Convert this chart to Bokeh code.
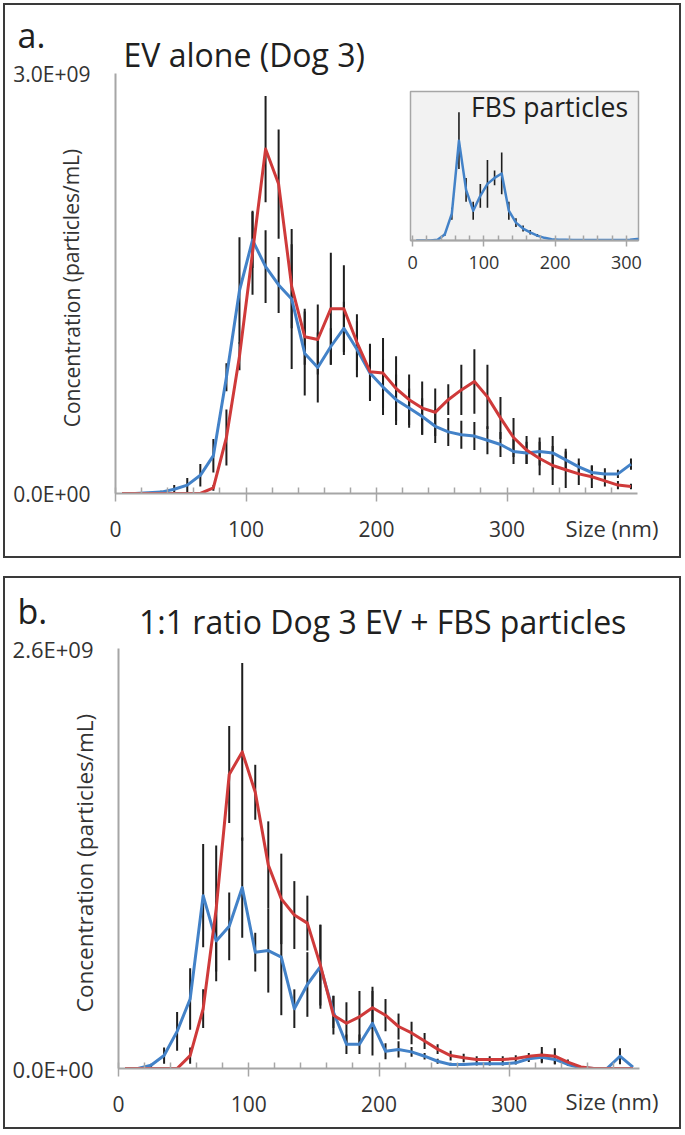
from bokeh.plotting import figure
from bokeh.models import Range1d, FixedTicker, CustomJSTickFormatter, Label, ColumnDataSource, GridBox
from bokeh.embed import file_html
from bokeh.resources import INLINE

# ---------------- data (concentrations in 1e9 particles/mL) ----------------
size_nm = [5, 15, 25, 35, 45, 55, 65, 75, 85, 95, 105, 115, 125, 135, 145, 155, 165, 175, 185, 195,
           205, 215, 225, 235, 245, 255, 265, 275, 285, 295, 305, 315, 325, 335, 345, 355, 365, 375, 385, 395]

# panel a : EV alone (Dog 3)
ev_red = [0, 0, 0, 0, 0, 0, 0, 0.04, 0.40, 0.98, 1.72, 2.46, 2.21, 1.48, 1.12, 1.10, 1.32, 1.32, 1.08, 0.87,
          0.86, 0.75, 0.67, 0.61, 0.58, 0.67, 0.74, 0.80, 0.69, 0.54, 0.40, 0.31, 0.25, 0.20, 0.17, 0.14, 0.12, 0.09, 0.06, 0.05]
ev_red_err = [0, 0, 0, 0, 0, 0, 0, 0.02, 0.20, 0.10, 0.30, 0.38, 0.39, 0.30, 0.20, 0.25, 0.40, 0.31, 0.20, 0.20,
              0.25, 0.23, 0.18, 0.19, 0.17, 0.11, 0.18, 0.23, 0.23, 0.15, 0.14, 0.10, 0.12, 0.14, 0.13, 0.08, 0.08, 0.04, 0.03, 0.02]
ev_blue = [0, 0, 0.005, 0.01, 0.03, 0.06, 0.13, 0.27, 0.83, 1.45, 1.81, 1.62, 1.49, 1.39, 1.00, 0.90, 1.05, 1.18, 1.03, 0.86,
           0.76, 0.67, 0.61, 0.55, 0.48, 0.44, 0.42, 0.41, 0.38, 0.35, 0.30, 0.29, 0.30, 0.29, 0.24, 0.19, 0.15, 0.14, 0.14, 0.21]
ev_blue_err = [0, 0, 0, 0.01, 0.03, 0.05, 0.08, 0.12, 0.10, 0.38, 0.20, 0.26, 0.20, 0.50, 0.30, 0.25, 0.13, 0.19, 0.20, 0.20,
               0.20, 0.18, 0.14, 0.13, 0.12, 0.10, 0.10, 0.10, 0.10, 0.09, 0.09, 0.08, 0.10, 0.12, 0.08, 0.06, 0.05, 0.04, 0.03, 0.04]

# inset : FBS particles (relative units)
fbs = [0, 0, 0, 0.005, 0.04, 0.18, 0.67, 0.34, 0.20, 0.30, 0.38, 0.42, 0.45, 0.20, 0.12, 0.08, 0.055, 0.033, 0.018, 0.009,
       0.005, 0.005, 0.004, 0.004, 0.004, 0.004, 0.004, 0.004, 0.004, 0.004, 0.005, 0.01, 0.01, 0.01, 0.01, 0.01, 0.01, 0.01, 0.01, 0.01]
fbs_err = [0, 0, 0, 0, 0.01, 0.04, 0.19, 0.08, 0.06, 0.08, 0.16, 0.05, 0.14, 0.06, 0.03, 0.02, 0.015, 0.01, 0.005, 0,
           0, 0, 0, 0, 0, 0, 0, 0, 0, 0, 0, 0, 0, 0, 0, 0, 0, 0, 0, 0]

# panel b : 1:1 ratio Dog 3 EV + FBS particles
mix_red = [0, 0, 0, 0, 0, 0.08, 0.37, 0.99, 1.82, 1.96, 1.71, 1.26, 1.05, 0.95, 0.90, 0.64, 0.33, 0.28, 0.32, 0.376,
           0.33, 0.26, 0.22, 0.17, 0.12, 0.08, 0.066, 0.056, 0.056, 0.056, 0.062, 0.076, 0.083, 0.076, 0.04, 0.01, 0, 0, 0, 0]
mix_red_err = [0, 0, 0, 0, 0, 0.05, 0.12, 0.39, 0.30, 0.55, 0.17, 0.27, 0.28, 0.21, 0.17, 0.25, 0.12, 0.13, 0.16, 0.13,
               0.10, 0.08, 0.07, 0.05, 0.03, 0.03, 0.025, 0.02, 0.02, 0.02, 0.02, 0.02, 0.05, 0.05, 0.015, 0, 0, 0, 0, 0]
mix_blue = [0, 0, 0.02, 0.08, 0.23, 0.43, 1.07, 0.79, 0.88, 1.12, 0.72, 0.73, 0.69, 0.37, 0.52, 0.63, 0.35, 0.15, 0.15, 0.28,
            0.107, 0.118, 0.103, 0.076, 0.045, 0.025, 0.025, 0.029, 0.029, 0.029, 0.035, 0.06, 0.07, 0.056, 0.025, 0.004, 0, 0, 0.076, 0.008]
mix_blue_err = [0, 0, 0.01, 0.05, 0.12, 0.19, 0.32, 0.25, 0.21, 0.31, 0.12, 0.26, 0.36, 0.12, 0.20, 0.26, 0.10, 0.06, 0.06, 0.20,
                0.05, 0.05, 0.03, 0.02, 0.015, 0.01, 0.01, 0.01, 0.01, 0.01, 0.01, 0.02, 0.03, 0.03, 0.01, 0, 0, 0, 0.05, 0]

UNIT = 1e9
x_major = [0, 100, 200, 300]
x_minor = [20, 40, 60, 80, 120, 140, 160, 180, 220, 240, 260, 280, 320, 340, 360, 380]
inset_minor = [20, 40, 60, 80, 120, 140, 160, 180, 220, 240, 260, 280]
y_top_a = 3.0e9
y_top_b = 2.6e9

# ---------------- styling ----------------
FONT = "Open Sans"
BLUE = "#4382c8"
RED = "#cf3a3a"
BAR = "#1e1e1e"
AXIS = "#a6a6a6"
TXT = "#202020"
TICKTXT = "#333333"

sci_fmt = CustomJSTickFormatter(code="""
const s = tick.toExponential(1).toUpperCase();
return s.replace(/E([+-])(\\d)$/, (m, sg, d) => "E" + sg + "0" + d);
""")


def err_source(vals, errs, scale):
    xs, y0, y1 = [], [], []
    for x, v, e in zip(size_nm, vals, errs):
        if e > 0:
            xs.append(x)
            y0.append((v - e) * scale)
            y1.append((v + e) * scale)
    return ColumnDataSource(dict(x=xs, y0=y0, y1=y1))


def style_x_axis(p, minor, font_size, standoff, tin, tout):
    ax = p.xaxis[0]
    ax.ticker = FixedTicker(ticks=x_major, minor_ticks=minor)
    ax.axis_line_color = AXIS
    ax.axis_line_width = 2
    ax.major_tick_line_color = AXIS
    ax.major_tick_line_width = 1.5
    ax.minor_tick_line_color = AXIS
    ax.minor_tick_line_width = 1.5
    ax.major_tick_in = tin
    ax.major_tick_out = tout
    ax.minor_tick_in = tin
    ax.minor_tick_out = 0
    ax.major_label_text_font = FONT
    ax.major_label_text_font_size = font_size
    ax.major_label_text_color = TICKTXT
    ax.major_label_standoff = standoff


def main_panel(w, h, borders, ytop, ytick_size, red, red_err, blue, blue_err):
    p = figure(width=w, height=h, x_range=Range1d(0, 400), y_range=Range1d(0, ytop),
               output_backend="svg", toolbar_location=None,
               min_border_left=borders[0], min_border_right=borders[1],
               min_border_top=borders[2], min_border_bottom=borders[3],
               outline_line_color=None, background_fill_color="white", border_fill_color="white")
    p.styles = {"border": "2px solid #3a3a3a"}
    style_x_axis(p, x_minor, "21px", 19, 6, 8)
    ay = p.yaxis[0]
    ay.ticker = FixedTicker(ticks=[0, ytop])
    ay.formatter = sci_fmt
    ay.axis_line_color = AXIS
    ay.axis_line_width = 2
    ay.major_tick_in = 0
    ay.major_tick_out = 0
    ay.minor_tick_line_color = None
    ay.major_label_text_font = FONT
    ay.major_label_text_font_size = ytick_size
    ay.major_label_text_color = TICKTXT
    ay.major_label_standoff = 25
    p.xgrid.visible = False
    p.ygrid.ticker = FixedTicker(ticks=[ytop])
    p.ygrid.grid_line_color = AXIS
    p.ygrid.grid_line_width = 2

    p.segment(x0="x", y0="y0", x1="x", y1="y1", source=err_source(blue, blue_err, UNIT),
              line_color=BAR, line_width=2)
    p.segment(x0="x", y0="y0", x1="x", y1="y1", source=err_source(red, red_err, UNIT),
              line_color=BAR, line_width=2)
    p.line(size_nm, [v * UNIT for v in blue], line_color=BLUE, line_width=3, line_join="round")
    p.line(size_nm, [v * UNIT for v in red], line_color=RED, line_width=3, line_join="round")
    return p


def overlay(x0, x1, y0, y1):
    # transparent layer (page pixel coordinates) carrying the panel texts
    o = figure(width=x1 - x0, height=y1 - y0, x_range=Range1d(x0, x1), y_range=Range1d(y1, y0),
               output_backend="svg", toolbar_location=None,
               x_axis_location=None, y_axis_location=None,
               min_border=0, min_border_left=0, min_border_right=0, min_border_top=0, min_border_bottom=0,
               outline_line_color=None, background_fill_color=None, border_fill_color=None)
    o.grid.visible = False
    return o


def add_label(p, x, y, text, size, angle=0, align="left", baseline="alphabetic", color=TXT):
    p.add_layout(Label(x=x, y=y, text=text, text_font=FONT, text_font_size=size, angle=angle,
                       text_align=align, text_baseline=baseline, text_color=color))


# ---------------- panel a ----------------
pa = main_panel(678, 555, (110, 46, 68, 67), y_top_a, "21px", ev_red, ev_red_err, ev_blue, ev_blue_err)
oa = overlay(0, 681, 0, 558)
add_label(oa, 17, 34, "a.", "34px")
add_label(oa, 123, 54, "EV alone (Dog 3)", "32px")
add_label(oa, 71, 287.5, "Concentration (particles/mL)", "21px", angle=1.5708, align="center",
          baseline="middle", color=TICKTXT)
add_label(oa, 611.5, 527, "Size (nm)", "22px", align="center", baseline="middle", color=TICKTXT)

# ---------------- panel b ----------------
pb = main_panel(678, 553, (113, 44, 70, 63), y_top_b, "22px", mix_red, mix_red_err, mix_blue, mix_blue_err)
ob = overlay(0, 681, 558, 1129)
add_label(ob, 17, 610, "b.", "34px")
add_label(ob, 138.5, 620.5, "1:1 ratio Dog 3 EV + FBS particles", "32px")
add_label(ob, 84, 862.5, "Concentration (particles/mL)", "22.5px", angle=1.5708, align="center",
          baseline="middle", color=TICKTXT)
add_label(ob, 611.5, 1100, "Size (nm)", "22px", align="center", baseline="middle", color=TICKTXT)

# ---------------- inset ----------------
pi = figure(frame_width=228, frame_height=149, x_range=Range1d(-3, 317), y_range=Range1d(0, 1),
            output_backend="svg", toolbar_location=None, y_axis_location=None,
            min_border_left=10, min_border_right=10, min_border_top=2, min_border_bottom=40,
            background_fill_color="#f2f2f2", outline_line_color=AXIS, outline_line_width=1.5,
            border_fill_color=None)
style_x_axis(pi, inset_minor, "18px", 9, 5, 6)
pi.xgrid.visible = False
pi.ygrid.visible = False
pi.segment(x0="x", y0="y0", x1="x", y1="y1", source=err_source(fbs, fbs_err, 1),
           line_color=BAR, line_width=1.6)
pi.line(size_nm, fbs, line_color=BLUE, line_width=2.5, line_join="round")
add_label(pi, 82, 0.893, "FBS particles", "26.5px")

# grid tracks: zero-size tracks give every plot its own start/end lines (no frame alignment)
cols = ["0px", "0px", "3px", "0px", "0px", "397px", "248px", "33px", "0px", "0px", "0px"]
rows = ["0px", "3px", "0px", "86px", "191px", "278px", "0px", "0px", "18px", "0px", "553px", "0px"]
grid = GridBox(children=[(pa, 2, 3, 4, 5),
                         (pi, 4, 6),
                         (oa, 0, 0, 7, 10),
                         (pb, 9, 4, 2, 5),
                         (ob, 7, 1, 5, 10)],
               cols=cols, rows=rows, spacing=0)
open("out.html", "w").write(file_html(grid, INLINE))
